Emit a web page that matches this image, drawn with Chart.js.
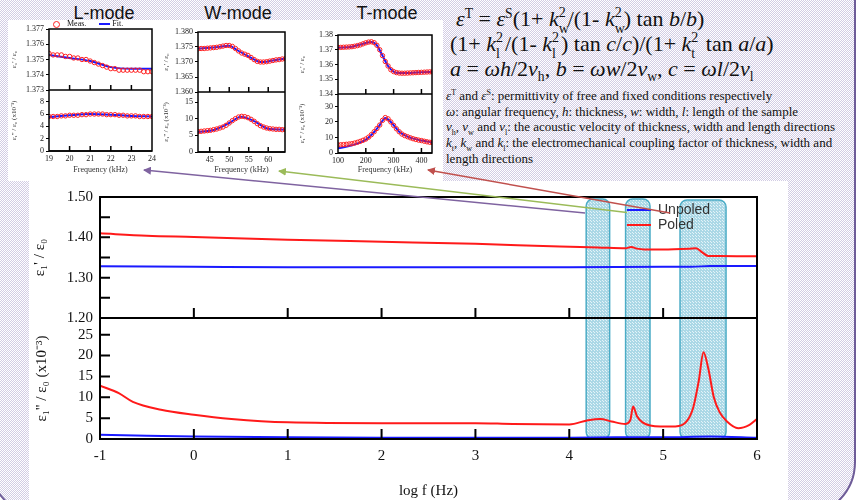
<!DOCTYPE html>
<html>
<head>
<meta charset="utf-8">
<script src="https://cdn.jsdelivr.net/npm/chart.js@4.4.1/dist/chart.umd.min.js"></script>
<style>
  html, body { margin: 0; padding: 0; }
  body { width: 857px; height: 500px; overflow: hidden; position: relative; background: #fff;
         font-family: "Liberation Serif", "Times New Roman", serif; color: #111; }
  #frame { position: absolute; left: -12px; top: -60px; width: 864px; height: 573px;
           border: 2px solid #6e5c98; border-radius: 55px; background-color: #fff;
           background-image: repeating-conic-gradient(#d2cce4 0% 25%, #ffffff 0% 50%);
           background-size: 2px 2px; }
  .white { position: absolute; background: #fff; }
  canvas { position: absolute; }
  .mode { position: absolute; top: 3px; font: 18px/20px "Liberation Sans", Arial, sans-serif; color: #111; transform: translateX(-50%); white-space: nowrap; }
  .eq { position: absolute; font-size: 22px; line-height: 24px; white-space: nowrap; }
  .note { position: absolute; left: 446px; top: 88px; font-size: 13px; line-height: 15.7px; white-space: nowrap; }
  sup, sub { font-size: 0.62em; line-height: 0; }
  .ss { display: inline-block; position: relative; width: 9px; height: 0; }
  .ss span { position: absolute; left: 0; font-size: 14px; line-height: 14px; }
  .ss .u { bottom: 6px; }
  .ss .d { top: -4px; }
  .lg { position: absolute; font: 14px "Liberation Sans", Arial, sans-serif; color: #333; white-space: nowrap; }
  .ln { display: inline-block; width: 24px; height: 2px; vertical-align: middle; margin-right: 7px; }
  .ilg { position: absolute; top: 19px; font-size: 8px; line-height: 10px; white-space: nowrap; }
  svg { position: absolute; left: 0; top: 0; }
</style>
</head>
<body>
<div id="frame"></div>
<div class="white" style="left:8px; top:20px; width:435px; height:161px;"></div>
<div class="white" style="left:29px; top:181px; width:759px; height:319px;"></div>

<div class="mode" style="left:104px;">L-mode</div>
<div class="mode" style="left:238px;">W-mode</div>
<div class="mode" style="left:387px;">T-mode</div>

<div class="eq" style="left:456px; top:7px;"><i>ε</i><sup>T</sup> = <i>ε</i><sup>S</sup>(1+ <i>k</i><span class="ss"><span class="u">2</span><span class="d">w</span></span>/(1- <i>k</i><span class="ss"><span class="u">2</span><span class="d">w</span></span>) tan <i>b</i>/<i>b</i>)</div>
<div class="eq" style="left:450px; top:32px;">(1+ <i>k</i><span class="ss"><span class="u">2</span><span class="d">l</span></span>/(1- <i>k</i><span class="ss"><span class="u">2</span><span class="d">l</span></span>) tan <i>c</i>/<i>c</i>)/(1+ <i>k</i><span class="ss"><span class="u">2</span><span class="d">t</span></span> tan <i>a</i>/<i>a</i>)</div>
<div class="eq" style="left:450px; top:57px;"><i>a</i> = <i>ωh</i>/2<i>v</i><sub>h</sub>, <i>b</i> = <i>ωw</i>/2<i>v</i><sub>w</sub>, <i>c</i> = <i>ωl</i>/2<i>v</i><sub>l</sub></div>
<div class="note">
<i>ε</i><sup>T</sup> and <i>ε</i><sup>S</sup>: permittivity of free and fixed conditions respectively<br>
<i>ω</i>: angular frequency, <i>h</i>: thickness, <i>w</i>: width, <i>l</i>: length of the sample<br>
<i>v</i><sub>h</sub>, <i>v</i><sub>w</sub> and <i>v</i><sub>l</sub>: the acoustic velocity of thickness, width and length directions<br>
<i>k</i><sub>t</sub>, <i>k</i><sub>w</sub> and <i>k</i><sub>l</sub>: the electromechanical coupling factor of thickness, width and<br>
length directions
</div>

<canvas id="mainChart" width="759" height="319" style="left:29px; top:181px;"></canvas>
<canvas id="lChart" width="152" height="161" style="left:8px; top:20px;"></canvas>
<canvas id="wChart" width="136" height="161" style="left:160px; top:20px;"></canvas>
<canvas id="tChart" width="147" height="161" style="left:296px; top:20px;"></canvas>

<div class="ilg" style="left:53px;"><span style="display:inline-block;width:5px;height:5px;border:1px solid #ff2020;border-radius:50%;vertical-align:middle;margin-right:7px;"></span>Meas.<span style="display:inline-block;width:11px;height:2px;background:#1a1aff;vertical-align:middle;margin:0 2px 0 13px;"></span>Fit.</div>

<div class="lg" style="left:627px; top:201px;"><span class="ln" style="background:#1a1aff"></span>Unpoled</div>
<div class="lg" style="left:627px; top:216px;"><span class="ln" style="background:#ff1a1a"></span>Poled</div>

<svg width="857" height="500">
  <defs>
    <marker id="mP" markerWidth="8" markerHeight="8" refX="7" refY="4" orient="auto" markerUnits="userSpaceOnUse"><path d="M0,0 L8,4 L0,8 z" fill="#7f63a0"/></marker>
    <marker id="mG" markerWidth="8" markerHeight="8" refX="7" refY="4" orient="auto" markerUnits="userSpaceOnUse"><path d="M0,0 L8,4 L0,8 z" fill="#9bbb59"/></marker>
    <marker id="mR" markerWidth="8" markerHeight="8" refX="7" refY="4" orient="auto" markerUnits="userSpaceOnUse"><path d="M0,0 L8,4 L0,8 z" fill="#c0504d"/></marker>
  </defs>
  <line x1="585" y1="213" x2="144" y2="170" stroke="#7f63a0" stroke-width="1.5" marker-end="url(#mP)"/>
  <line x1="627" y1="212.5" x2="279" y2="171" stroke="#9bbb59" stroke-width="1.5" marker-end="url(#mG)"/>
  <line x1="670" y1="213" x2="428" y2="170" stroke="#c0504d" stroke-width="1.5" marker-end="url(#mR)"/>
</svg>

<script>
// main chart: log f vs permittivity
const poledReLogF = [-1, -0.5, 0, 1, 2, 3, 3.9, 4.3, 4.6, 4.66, 4.72, 4.8, 5.0, 5.28, 5.35, 5.42, 5.48, 5.6, 6];
const poledRe = [1.410, 1.404, 1.401, 1.394, 1.389, 1.384, 1.377, 1.375, 1.373, 1.376, 1.372, 1.370, 1.370, 1.372, 1.373, 1.362, 1.354, 1.354, 1.353];
const unpoledReLogF = [-1, 0, 1, 2, 3, 4, 5, 5.3, 5.5, 6];
const unpoledRe = [1.328, 1.327, 1.326, 1.326, 1.326, 1.326, 1.327, 1.327, 1.329, 1.329];

const poledImLogF = [-1, -0.8, -0.65, -0.35, 0, 0.4, 1, 2, 3, 3.4, 4, 4.2, 4.33, 4.45, 4.6, 4.65, 4.68, 4.72, 4.78, 4.97, 5.13, 5.25, 5.32, 5.38, 5.43, 5.48, 5.54, 5.6, 5.68, 5.8, 5.92, 6];
const poledIm = [12.8, 11.0, 8.9, 7.0, 5.8, 4.8, 4.0, 3.8, 3.8, 3.6, 3.5, 4.5, 4.8, 4.2, 3.6, 4.5, 7.8, 5.5, 4.0, 3.0, 3.0, 4.2, 7.5, 14, 20.8, 17, 10, 6.5, 4.2, 2.6, 3.4, 4.8];
const unpoledImLogF = [-1, -0.5, 0, 1, 2, 3, 4, 4.5, 5, 5.5, 6];
const unpoledIm = [1.0, 0.8, 0.6, 0.4, 0.3, 0.3, 0.3, 0.4, 0.4, 0.6, 0.3];

// highlighted resonance bands (log f)
const bandFrom = [4.18, 4.60, 5.18];
const bandTo = [4.43, 4.86, 5.67];
const bandTop = [1.495, 1.495, 1.4925];

// L-mode inset
const lFreq = [19.0, 19.2, 19.4, 19.6, 19.8, 20.0, 20.2, 20.4, 20.6, 20.8, 21.0, 21.2, 21.4, 21.6, 21.8, 22.0, 22.2, 22.4, 22.6, 22.8, 23.0, 23.2, 23.4, 23.6, 23.8, 24.0];
const lRe = [1.3754, 1.3753, 1.3753, 1.3753, 1.3752, 1.3752, 1.3751, 1.3751, 1.3750, 1.3750, 1.3749, 1.3748, 1.3747, 1.3746, 1.3745, 1.3744, 1.3744, 1.3743, 1.3743, 1.3743, 1.3743, 1.3743, 1.3743, 1.3742, 1.3742, 1.3742];
const lIm = [5.6, 5.6, 5.6, 5.7, 5.7, 5.8, 5.8, 5.8, 5.9, 5.9, 6.0, 6.0, 6.0, 6.0, 5.9, 5.9, 5.9, 5.8, 5.8, 5.7, 5.7, 5.7, 5.6, 5.6, 5.6, 5.6];
const lFitReF = [19, 20, 21, 21.5, 22, 23, 24];
const lFitRe = [1.3753, 1.3751, 1.3749, 1.3747, 1.3745, 1.3744, 1.3744];
const lFitImF = [19, 20, 21, 22, 23, 24];
const lFitIm = [5.5, 5.8, 6.0, 5.9, 5.7, 5.6];

// W-mode inset
const wFreq = [42.0, 42.8, 43.6, 44.4, 45.2, 46.0, 46.8, 47.6, 48.4, 49.2, 50.0, 50.8, 51.6, 52.4, 53.2, 54.0, 54.8, 55.6, 56.4, 57.2, 58.0, 58.8, 59.6, 60.4, 61.2, 62.0, 62.8, 63.6, 64.4];
const wRe = [1.3744, 1.3745, 1.3745, 1.3746, 1.3747, 1.3748, 1.3749, 1.3751, 1.3753, 1.3755, 1.3755, 1.3752, 1.3745, 1.3737, 1.3730, 1.3726, 1.3722, 1.3715, 1.3708, 1.3702, 1.3700, 1.3700, 1.3701, 1.3703, 1.3705, 1.3707, 1.3708, 1.3710, 1.3711];
const wIm = [6.1, 6.2, 6.3, 6.4, 6.5, 6.7, 6.9, 7.2, 7.5, 8.0, 8.7, 9.4, 10.0, 10.5, 10.7, 10.6, 10.3, 9.8, 9.2, 8.5, 7.9, 7.5, 7.2, 7.0, 6.9, 6.8, 6.8, 6.7, 6.7];
const wFitReF = [42, 46, 50, 52, 54, 56, 58, 60, 62, 64.4];
const wFitRe = [1.3745, 1.3748, 1.3754, 1.3740, 1.3725, 1.3711, 1.3700, 1.3702, 1.3707, 1.3711];
const wFitImF = [42, 46, 50, 53, 56, 60, 64.4];
const wFitIm = [6.0, 6.6, 8.7, 10.6, 9.5, 7.0, 6.7];

// T-mode inset
const tFreq = [100, 110, 120, 130, 140, 150, 160, 170, 180, 190, 200, 210, 220, 230, 240, 250, 260, 270, 280, 290, 300, 310, 320, 330, 340, 350, 360, 370, 380, 390, 400, 410, 420, 430, 440];
const tRe = [1.3716, 1.3716, 1.3717, 1.3718, 1.3719, 1.3721, 1.3724, 1.3728, 1.3733, 1.3740, 1.3747, 1.3752, 1.3754, 1.3748, 1.3730, 1.3700, 1.3660, 1.3620, 1.3590, 1.3565, 1.3552, 1.3545, 1.3542, 1.3541, 1.3541, 1.3542, 1.3543, 1.3544, 1.3545, 1.3546, 1.3547, 1.3548, 1.3549, 1.3550, 1.3550];
const tIm = [5.2, 5.3, 5.4, 5.6, 5.8, 6.0, 6.4, 6.9, 7.5, 8.2, 9.0, 10.2, 11.8, 13.7, 15.8, 18.0, 21.0, 22.8, 22.0, 20.0, 17.8, 15.6, 13.7, 12.2, 11.2, 10.5, 9.8, 9.2, 8.7, 8.3, 8.0, 7.6, 7.2, 6.9, 6.7];
const tFitReF = [100, 150, 200, 220, 240, 260, 280, 300, 320, 360, 400, 440];
const tFitRe = [1.3714, 1.3720, 1.3746, 1.3752, 1.3730, 1.3660, 1.3590, 1.3552, 1.3542, 1.3543, 1.3547, 1.3550];
const tFitImF = [100, 150, 200, 230, 250, 270, 290, 320, 350, 400, 440];
const tFitIm = [3.0, 5.0, 8.6, 13.5, 18.0, 22.6, 20.0, 13.7, 10.5, 8.0, 6.8];

const RED = '#ff1a1a';
const BLUE = '#1a1aff';
const serif = '"Liberation Serif", "Times New Roman", serif';

const pts = (xs, ys) => xs.map((x, i) => ({ x: x, y: ys[i] }));

// box around each panel + inward tick marks
const framePlugin = {
  id: 'frame',
  afterDraw(chart, args, opts) {
    const { ctx, chartArea: a, scales } = chart;
    ctx.save();
    ctx.strokeStyle = '#000';
    ctx.lineWidth = opts.width;
    ctx.strokeRect(a.left, a.top, a.right - a.left, a.bottom - a.top);
    ctx.beginPath();
    opts.panels.forEach(id => {
      const ys = scales[id];
      ctx.moveTo(a.left, ys.bottom);
      ctx.lineTo(a.right, ys.bottom);
      scales.x.ticks.forEach(t => {
        const px = scales.x.getPixelForValue(t.value);
        if (px <= a.left + 1 || px >= a.right - 1) return;
        ctx.moveTo(px, ys.bottom);
        ctx.lineTo(px, ys.bottom - opts.len);
      });
      if (opts.yTicks) {
        ys.ticks.forEach(t => {
          const py = ys.getPixelForValue(t.value);
          if (py <= ys.top + 1 || py >= ys.bottom - 1) return;
          ctx.moveTo(a.left, py);
          ctx.lineTo(a.left + opts.len, py);
        });
      }
    });
    ctx.stroke();
    ctx.restore();
  }
};

// light blue hatched bands marking the resonances
function bandPattern() {
  const c = document.createElement('canvas');
  c.width = 3; c.height = 3;
  const g = c.getContext('2d');
  g.fillStyle = '#abd8e6';
  g.fillRect(0, 0, 3, 3);
  g.fillStyle = '#e4f3f8';
  g.fillRect(1, 1, 1, 1);
  g.fillRect(0, 0, 1, 1);
  return c;
}
const bandPlugin = {
  id: 'bands',
  beforeDatasetsDraw(chart) {
    const { ctx, chartArea: a, scales } = chart;
    const pat = ctx.createPattern(bandPattern(), 'repeat');
    ctx.save();
    bandFrom.forEach((from, i) => {
      const l = scales.x.getPixelForValue(from);
      const r = scales.x.getPixelForValue(bandTo[i]);
      const t = scales.yr.getPixelForValue(bandTop[i]);
      ctx.beginPath();
      ctx.roundRect(l, t, r - l, a.bottom - t, 7);
      ctx.fillStyle = pat;
      ctx.fill();
      ctx.strokeStyle = '#4bacc6';
      ctx.lineWidth = 1.5;
      ctx.stroke();
    });
    ctx.restore();
  }
};

const mainTick = { family: serif, size: 15 };

// stacked axes: the one declared later is placed on top, so the bottom panel comes first
new Chart(document.getElementById('mainChart'), {
  type: 'line',
  data: {
    datasets: [
      { data: pts(poledReLogF, poledRe), yAxisID: 'yr', borderColor: RED },
      { data: pts(unpoledReLogF, unpoledRe), yAxisID: 'yr', borderColor: BLUE },
      { data: pts(poledImLogF, poledIm), yAxisID: 'yi', borderColor: RED },
      { data: pts(unpoledImLogF, unpoledIm), yAxisID: 'yi', borderColor: BLUE }
    ]
  },
  options: {
    responsive: false,
    animation: false,
    layout: { padding: { left: 0, top: 16, right: 31, bottom: 0 } },
    plugins: {
      legend: { display: false },
      tooltip: { enabled: false },
      frame: { width: 2, len: 10, yTicks: true, panels: ['yr', 'yi'] }
    },
    elements: {
      point: { radius: 0 },
      line: { borderWidth: 2, cubicInterpolationMode: 'monotone' }
    },
    scales: {
      x: {
        type: 'linear', min: -1, max: 6,
        ticks: { stepSize: 1, autoSkip: false, font: mainTick, color: '#111', padding: 8 },
        grid: { display: false, drawTicks: false },
        border: { display: false },
        title: { display: true, text: 'log f (Hz)', font: mainTick, color: '#111', padding: 0 },
        afterFit: s => { s.height = 61; }
      },
      yi: {
        type: 'linear', position: 'left', stack: 'panels', stackWeight: 1,
        min: 0, max: 29,
        ticks: { stepSize: 5, autoSkip: false, includeBounds: false, font: mainTick, color: '#111', padding: 7 },
        grid: { display: false, drawTicks: false },
        border: { display: false },
        title: { display: true, text: "ε₁'' / ε₀ (x10⁻³)", font: mainTick, color: '#111', padding: { top: 4, bottom: 0 } },
        afterFit: s => { s.width = 71; }
      },
      yr: {
        type: 'linear', position: 'left', stack: 'panels', stackWeight: 1,
        min: 1.2, max: 1.5,
        ticks: {
          stepSize: 0.05, autoSkip: false, includeBounds: false, font: mainTick, color: '#111', padding: 7,
          callback: v => (Math.round(v * 100) % 10 === 0 ? v.toFixed(2) : '')
        },
        grid: { display: false, drawTicks: false },
        border: { display: false },
        title: { display: true, text: "ε₁' / ε₀", font: mainTick, color: '#111', padding: { top: 2, bottom: 0 } },
        afterFit: s => { s.width = 71; }
      }
    }
  },
  plugins: [bandPlugin, framePlugin]
});

// small inset charts (measured circles + fitted line)
function inset(id, o) {
  const tick = { family: serif, size: 8 };
  const small = { family: serif, size: 7 };
  const meas = { showLine: false, pointRadius: 2.2, pointBorderWidth: 1, pointBorderColor: '#ff2020', pointBackgroundColor: 'rgba(255,255,255,0)' };
  const fit = { borderColor: BLUE, borderWidth: 2, pointRadius: 0, cubicInterpolationMode: 'monotone' };
  const yAxis = (min, max, step, digits, title) => ({
    type: 'linear', position: 'left', stack: 'panels', stackWeight: 1, min: min, max: max,
    ticks: { stepSize: step, autoSkip: false, includeBounds: false, font: tick, color: '#222', padding: 2,
             callback: v => v.toFixed(digits) },
    grid: { display: true, drawOnChartArea: false, drawTicks: true, tickLength: 3, color: '#000' },
    border: { display: false },
    title: { display: true, text: title, font: small, color: '#333', padding: { top: 2, bottom: 0 } },
    afterFit: s => { s.width = o.yWidth; }
  });
  return new Chart(document.getElementById(id), {
    type: 'line',
    data: {
      datasets: [
        Object.assign({ data: pts(o.freq, o.re), yAxisID: 'yr' }, meas),
        Object.assign({ data: pts(o.freq, o.im), yAxisID: 'yi' }, meas),
        Object.assign({ data: pts(o.fitReF, o.fitRe), yAxisID: 'yr' }, fit),
        Object.assign({ data: pts(o.fitImF, o.fitIm), yAxisID: 'yi' }, fit)
      ]
    },
    options: {
      responsive: false,
      animation: false,
      layout: { padding: { left: 0, top: o.top, right: o.right, bottom: 0 } },
      plugins: {
        legend: { display: false },
        tooltip: { enabled: false },
        frame: { width: 1.5, len: 5, yTicks: false, panels: ['yr', 'yi'] }
      },
      scales: {
        x: {
          type: 'linear', min: o.xMin, max: o.xMax,
          ticks: { stepSize: o.xStep, autoSkip: false, includeBounds: false, font: tick, color: '#222', padding: 3 },
          grid: { display: false, drawTicks: false },
          border: { display: false },
          title: { display: true, text: 'Frequency (kHz)', font: tick, color: '#333', padding: { top: 0, bottom: 6 } },
          afterFit: s => { s.height = o.xHeight; }
        },
        yi: yAxis(0, o.imMax, o.imStep, 0, "ε₁'' / ε₀ (x10⁻³)"),
        yr: yAxis(o.reMin, o.reMax, o.reStep, o.reDigits, "ε₁' / ε₀")
      }
    },
    plugins: [framePlugin]
  });
}

inset('lChart', {
  freq: lFreq, re: lRe, im: lIm, fitReF: lFitReF, fitRe: lFitRe, fitImF: lFitImF, fitIm: lFitIm,
  xMin: 19, xMax: 24, xStep: 1, reMin: 1.373, reMax: 1.377, reStep: 0.001, reDigits: 3, imMax: 9.9, imStep: 2,
  yWidth: 41, top: 9, right: 8, xHeight: 30
});
inset('wChart', {
  freq: wFreq, re: wRe, im: wIm, fitReF: wFitReF, fitRe: wFitRe, fitImF: wFitImF, fitIm: wFitIm,
  xMin: 42, xMax: 64.3, xStep: 5, reMin: 1.36, reMax: 1.38, reStep: 0.005, reDigits: 3, imMax: 18, imStep: 5,
  yWidth: 38, top: 12, right: 11, xHeight: 29
});
inset('tChart', {
  freq: tFreq, re: tRe, im: tIm, fitReF: tFitReF, fitRe: tFitRe, fitImF: tFitImF, fitIm: tFitIm,
  xMin: 100, xMax: 438, xStep: 100, reMin: 1.34, reMax: 1.38, reStep: 0.01, reDigits: 2, imMax: 38, imStep: 10,
  yWidth: 42, top: 15, right: 11, xHeight: 28
});
</script>
</body>
</html>
